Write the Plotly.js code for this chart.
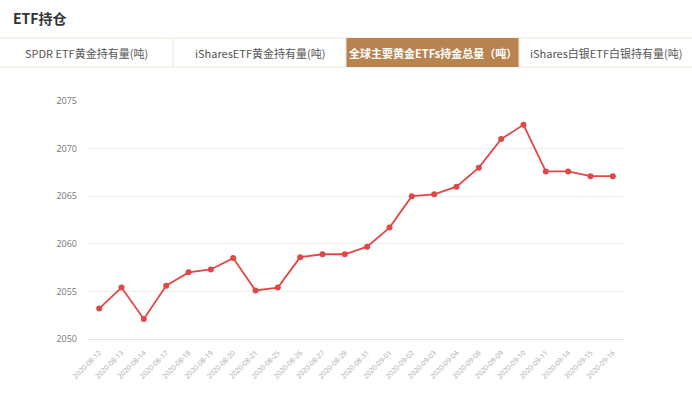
<!DOCTYPE html>
<html>
<head>
<meta charset="utf-8">
<script src="https://cdn.plot.ly/plotly-3.0.1.min.js"></script>
<style>
html,body{margin:0;padding:0;background:#fff;}
#chart{width:692px;height:399px;}
</style>
</head>
<body>
<div id="chart"></div>
<script>
var dates = ["2020-08-12","2020-08-13","2020-08-14","2020-08-17","2020-08-18","2020-08-19","2020-08-20","2020-08-21","2020-08-25","2020-08-26","2020-08-27","2020-08-28","2020-08-31","2020-09-01","2020-09-02","2020-09-03","2020-09-04","2020-09-08","2020-09-09","2020-09-10","2020-09-11","2020-09-14","2020-09-15","2020-09-16"];
var holdings = [2053.2,2055.4,2052.1,2055.6,2057.0,2057.3,2058.5,2055.1,2055.4,2058.6,2058.9,2058.9,2059.7,2061.7,2065.0,2065.2,2066.0,2068.0,2071.0,2072.5,2067.6,2067.6,2067.1,2067.1];
var yTicks = [2050,2055,2060,2065,2070,2075];
var tabs = ["SPDR ETF黄金持有量(吨)","iSharesETF黄金持有量(吨)","全球主要黄金ETFs持金总量（吨）","iShares白银ETF白银持有量(吨)"];
var activeTab = 2;
var pageTitle = "ETF持仓";

var W = 692, H = 399;
var mL = 88, mR = 68, mT = 101, mB = 60;
var pw = W - mL - mR, ph = H - mT - mB;
function px(x){ return (x - mL) / pw; }
function py(y){ return (H - mB - y) / ph; }

var font = '"Open Sans","Noto Sans CJK SC",sans-serif';
var cjk = '"Noto Sans CJK SC","Noto Sans",sans-serif';

var shapes = [];
var annotations = [];
var tabW = W / tabs.length;
var tabTop = 38, tabBot = 67;
shapes.push({type:'line', xref:'paper', yref:'paper', x0:px(0), x1:px(W), y0:py(tabTop), y1:py(tabTop), line:{color:'#efe4d9', width:1}});
shapes.push({type:'line', xref:'paper', yref:'paper', x0:px(0), x1:px(W), y0:py(tabBot), y1:py(tabBot), line:{color:'#efe4d9', width:1}});
for (var i = 0; i < tabs.length; i++) {
  var x0 = i * tabW, x1 = (i + 1) * tabW;
  if (i === activeTab) {
    shapes.push({type:'rect', xref:'paper', yref:'paper', x0:px(x0), x1:px(x1), y0:py(tabBot), y1:py(tabTop), fillcolor:'#b8834f', line:{width:0}});
  }
  if (i > 0) {
    shapes.push({type:'line', xref:'paper', yref:'paper', x0:px(x0), x1:px(x0), y0:py(tabBot), y1:py(tabTop), line:{color:'#efe4d9', width:1}});
  }
  annotations.push({xref:'paper', yref:'paper', x:px((x0 + x1) / 2), y:py((tabTop + tabBot) / 2), text: i === activeTab ? '<b>' + tabs[i] + '</b>' : tabs[i], showarrow:false, xanchor:'center', yanchor:'middle', font:{family:cjk, size:11, color: i === activeTab ? '#ffffff' : '#555555'}});
}
annotations.push({xref:'paper', yref:'paper', x:px(11), y:py(18), text:'<b>' + pageTitle + '</b>', showarrow:false, xanchor:'left', yanchor:'middle', font:{family:cjk, size:14, color:'#333333'}});

var trace = {
  x: dates, y: holdings, type:'scatter', mode:'lines+markers',
  line:{color:'#e04848', width:1.8},
  marker:{color:'#e04848', size:6},
  hoverinfo:'x+y'
};

var layout = {
  width: W, height: H,
  margin:{l:mL, r:mR, t:mT, b:mB, pad:0},
  paper_bgcolor:'#ffffff', plot_bgcolor:'#ffffff',
  showlegend:false,
  xaxis:{type:'category', range:[-0.5, dates.length - 0.5], tickangle:-45, showgrid:false, zeroline:false, showline:true, linecolor:'#e6e6e6', linewidth:1, ticks:'', ticklabelstandoff:6, tickfont:{family:font, size:7, color:'#aaaaaa'}, automargin:false, fixedrange:true},
  yaxis:{range:[2050, 2075], tickvals:yTicks, ticktext:yTicks.map(String), showgrid:true, gridcolor:'#eeeeee', gridwidth:1, zeroline:false, showline:false, ticks:'', ticklabelstandoff:10, tickfont:{family:font, size:9, color:'#777777'}, automargin:false, fixedrange:true},
  shapes: shapes,
  annotations: annotations
};

Plotly.newPlot('chart', [trace], layout, {displayModeBar:false, staticPlot:true});
</script>
</body>
</html>
